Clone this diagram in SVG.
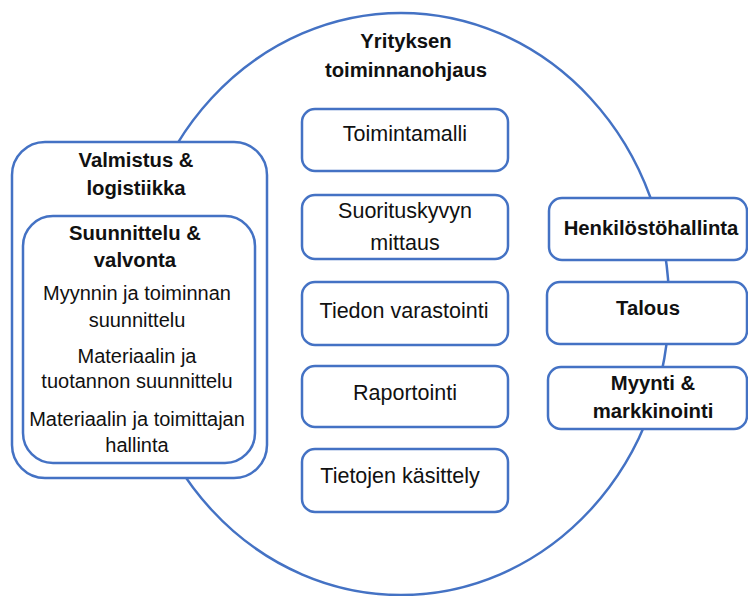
<svg xmlns="http://www.w3.org/2000/svg" width="748" height="596" viewBox="0 0 748 596">
<style>
.shape{fill:#fff;stroke:#4472C4;stroke-width:2.5}
.ell{fill:none;stroke:#4472C4;stroke-width:2.5}
text{font-family:"Liberation Sans",Arial,sans-serif;fill:#111;text-anchor:middle}
.b{font-weight:bold;font-size:20.3px}
.r{font-size:21.5px}
.s{font-size:20px}
</style>
<rect width="748" height="596" fill="#fff"/>
<g id="toiminnanohjaus">
<ellipse class="ell" cx="401" cy="304" rx="268" ry="291"/>
<text class="b" x="406" y="48">Yrityksen</text>
<text class="b" x="406" y="77">toiminnanohjaus</text>
</g>
<g id="connectors"></g>
<g id="toimintamalli">
<rect class="shape" x="302" y="109" width="206" height="62" rx="13"/>
<text class="r" x="405" y="141">Toimintamalli</text>
</g>
<g id="suorituskyky">
<rect class="shape" x="302" y="195" width="206" height="64" rx="13"/>
<text class="r" x="405" y="218">Suorituskyvyn</text>
<text class="r" x="405" y="250">mittaus</text>
</g>
<g id="varastointi">
<rect class="shape" x="302" y="282" width="206" height="63" rx="13"/>
<text class="r" x="404" y="318">Tiedon varastointi</text>
</g>
<g id="raportointi">
<rect class="shape" x="302" y="366" width="206" height="61" rx="13"/>
<text class="r" x="405" y="400">Raportointi</text>
</g>
<g id="kasittely">
<rect class="shape" x="302" y="449" width="206" height="63" rx="13"/>
<text class="r" x="400" y="483">Tietojen käsittely</text>
</g>
<g id="valmistus">
<rect class="shape" x="12" y="142" width="255" height="336" rx="33"/>
<text class="b" x="136" y="167">Valmistus &amp;</text>
<text class="b" x="136" y="195">logistiikka</text>
</g>
<g id="suunnittelu">
<rect class="shape" x="23" y="216" width="232" height="247" rx="30"/>
<text class="b" x="135" y="240">Suunnittelu &amp;</text>
<text class="b" x="135" y="267">valvonta</text>
<text class="s" x="137" y="300">Myynnin ja toiminnan</text>
<text class="s" x="137" y="327">suunnittelu</text>
<text class="s" x="137" y="363">Materiaalin ja</text>
<text class="s" x="137" y="388">tuotannon suunnittelu</text>
<text class="s" x="137" y="426">Materiaalin ja toimittajan</text>
<text class="s" x="137" y="452">hallinta</text>
</g>
<g id="henkilosto">
<rect class="shape" x="549" y="198" width="198" height="62" rx="13"/>
<text class="b" x="651" y="235">Henkilöstöhallinta</text>
</g>
<g id="talous">
<rect class="shape" x="547" y="282" width="200" height="62" rx="13"/>
<text class="b" x="648" y="315">Talous</text>
</g>
<g id="myynti">
<rect class="shape" x="548" y="367" width="199" height="62" rx="13"/>
<text class="b" x="653" y="390">Myynti &amp;</text>
<text class="b" x="653" y="418">markkinointi</text>
</g>
</svg>
